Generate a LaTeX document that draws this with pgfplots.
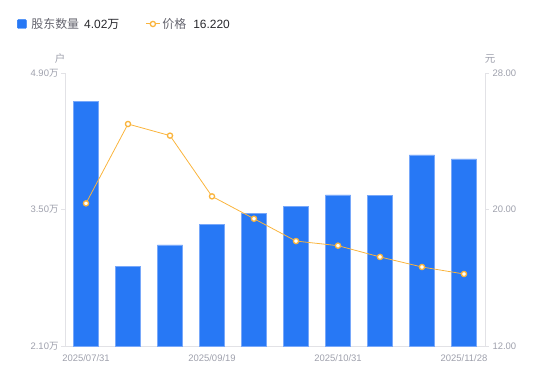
\documentclass[border=0pt]{standalone}
\usepackage{pgfplots}
\pgfplotsset{compat=1.18}
\usepackage{fontspec}
\setmainfont{Liberation Sans}
\newfontfamily\cjk{Noto Sans CJK SC}
\definecolor{barblue}{RGB}{39,120,245}
\definecolor{baredge}{RGB}{120,168,250}
\definecolor{lineorange}{RGB}{250,180,60}
\definecolor{tickgray}{RGB}{158,160,172}
\definecolor{axisgray}{RGB}{226,226,230}
\definecolor{leggray}{RGB}{100,100,110}
\definecolor{legdark}{RGB}{40,40,45}
\begin{document}
\begin{tikzpicture}[x=1bp,y=1bp]
\path[use as bounding box] (0,0) rectangle (550,381);
\begin{axis}[
  at={(65bp,35bp)}, anchor=south west,
  scale only axis, width=420bp, height=273bp,
  xmin=-0.5, xmax=9.5, ymin=2.10, ymax=4.90,
  axis y line*=left, axis x line*=bottom,
  axis line style={draw=axisgray, line width=0.8pt},
  x axis line style={-}, y axis line style={-},
  xtick={0,3,6,9},
  xticklabels={2025/07/31,2025/09/19,2025/10/31,2025/11/28},
  xtick style={draw=none},
  ytick={2.10,3.50,4.90},
  yticklabels={2.10{\cjk 万},3.50{\cjk 万},4.90{\cjk 万}},
  ytick style={draw=axisgray, line width=0.8pt},
  tick align=outside, major tick length=4bp,
  tick label style={font=\fontsize{9.5}{11}\selectfont, text=tickgray},
  xticklabel style={yshift=-1.5bp},
  yticklabel style={xshift=1bp},
  /pgf/number format/assume math mode=true,
  ybar, bar width=0.6, bar shift=0pt,
  clip mode=individual,
]
\addplot[fill=barblue, draw=baredge, line width=0.5pt] coordinates {
(0,4.607) (1,2.92) (2,3.136) (3,3.344) (4,3.46) (5,3.53) (6,3.65) (7,3.645) (8,4.06) (9,4.02)};
\node[font=\cjk\fontsize{10.5}{12}\selectfont, text=tickgray] at ([xshift=-5bp,yshift=14bp]rel axis cs:0,1) {户};
\end{axis}
\begin{axis}[
  at={(65bp,35bp)}, anchor=south west,
  scale only axis, width=420bp, height=273bp,
  xmin=-0.5, xmax=9.5, ymin=12, ymax=28,
  axis y line*=right, axis x line=none,
  axis line style={draw=axisgray, line width=0.8pt},
  y axis line style={-},
  ytick={12,20,28},
  yticklabels={12.00,20.00,28.00},
  ytick style={draw=axisgray, line width=0.8pt},
  tick align=outside, major tick length=4bp,
  tick label style={font=\fontsize{9.5}{11}\selectfont, text=tickgray},
  /pgf/number format/assume math mode=true,
  clip=false,
  legend style={at={(rel axis cs:0,1)}, anchor=west, xshift=-51bp, yshift=49bp,
    draw=none, fill=none, legend columns=2, font=\fontsize{12}{14}\selectfont,
    /tikz/every even column/.append style={column sep=24bp},
    legend cell align=left},
  legend image code/.code={\draw[#1] (0bp,0bp) -- (14bp,0bp);},
]
\addlegendimage{legend image code/.code={\fill[barblue,rounded corners=1bp] (0bp,-4.5bp) rectangle (9bp,4.5bp); \path[draw=none,fill=none] (0bp,0bp) -- (12bp,0bp);}}
\addlegendentry{{\cjk\color{leggray}股东数量}\hspace{5bp}{\color{legdark}4.02{\cjk 万}}}
\addlegendimage{legend image code/.code={\draw[lineorange,line width=1pt] (0bp,0bp) -- (14bp,0bp); \draw[lineorange,fill=white,line width=1.3pt] (7bp,0bp) circle (2.6bp);}}
\addlegendentry{{\cjk\color{leggray}价格}\hspace{7bp}{\color{legdark}16.220}}
\addplot[lineorange, line width=0.8pt, mark=*, mark size=2.6bp,
  mark options={fill=white, draw=lineorange, line width=1.3pt}, forget plot] coordinates {
(0,20.36) (1,25.01) (2,24.33) (3,20.77) (4,19.46) (5,18.15) (6,17.88) (7,17.22) (8,16.63) (9,16.22)};
\node[font=\cjk\fontsize{10.5}{12}\selectfont, text=tickgray] at ([xshift=5bp,yshift=14bp]rel axis cs:1,1) {元};
\end{axis}
\end{tikzpicture}
\end{document}
